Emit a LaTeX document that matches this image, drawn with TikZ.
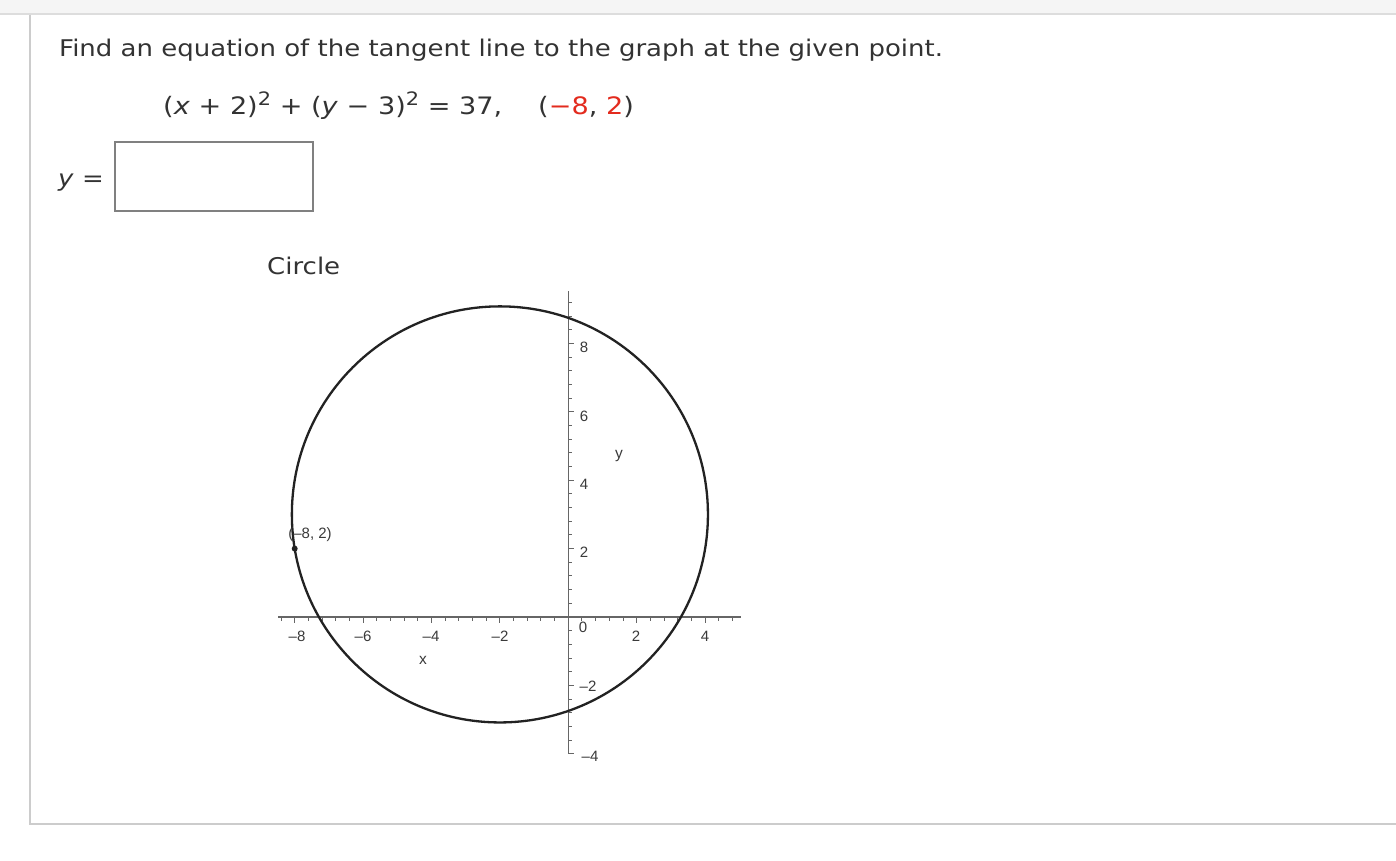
\documentclass[tikz,border=0pt]{standalone}
\usepackage{fontspec}
\setmainfont{DejaVu Sans}[FakeStretch=1.13]
\newfontfamily\tickfont{Liberation Sans}
\usepackage{xcolor}
\definecolor{txt}{HTML}{333333}
\definecolor{ansred}{HTML}{E32B1E}
\definecolor{panelline}{HTML}{CCCCCC}
\definecolor{topgray}{HTML}{F5F5F5}
\definecolor{topline}{HTML}{DDDDDD}
\definecolor{boxgray}{HTML}{808080}
\definecolor{curve}{HTML}{222222}
\definecolor{axisgray}{HTML}{666666}
\definecolor{ticklab}{HTML}{3A3A3A}
\begin{document}
\begin{tikzpicture}[x=1pt,y=-1pt,
  maintext/.style={anchor=base west,inner sep=0pt,text=txt,font=\fontsize{23}{27}\selectfont},
  ticklabel/.style={inner sep=0pt,text=ticklab,font=\tickfont\fontsize{15}{17}\selectfont},
  axislabel/.style={inner sep=0pt,text=ticklab,font=\tickfont\fontsize{15.5}{17}\selectfont}]
\useasboundingbox (0,0) rectangle (1396,860);
\fill[white] (0,0) rectangle (1396,860);
% top strip
\fill[topgray] (0,0) rectangle (1396,13.5);
\draw[topline,line width=1.2pt] (0,14) -- (1396,14);
% panel border
\draw[panelline,line width=2pt] (30,14.5) -- (30,824) -- (1396,824);
% texts
\node[maintext] (q) at (59,56) {Find an equation of the tangent line to the graph at the given point.};
\node[maintext,font=\fontsize{24}{27}\selectfont] (eq) at (163,114) {(\textit{x} + 2)\raisebox{9pt}{\fontsize{18.5}{20}\selectfont 2} + (\textit{y} − 3)\raisebox{9pt}{\fontsize{18.5}{20}\selectfont 2} = 37,\hspace{36pt}(\textcolor{ansred}{−8}, \textcolor{ansred}{2})};
\node[maintext] (yeq) at (58,186) {\textit{y} =};
\node[draw=boxgray,line width=2pt,minimum width=198pt,minimum height=69pt,inner sep=0pt,anchor=north west] (ans) at (114,141) {};
\node[maintext] (title) at (267,274) {Circle};
% graph
\begin{scope}[shift={(568.3,617)},x=34.2pt,y=34.2pt]
  % axes
  \draw[axisgray,line width=1.3pt] (-8.48,0) -- (5.05,0);
  \draw[axisgray,line width=1.3pt] (0,9.52) -- (0,-4);
  % x ticks
  \foreach \i in {-21,...,12} {
    \pgfmathsetmacro{\xx}{\i*0.4}
    \pgfmathtruncatemacro{\m}{mod(abs(\i),5)==0 ? 1 : 0}
    \ifnum\m=1
      \draw[axisgray,line width=1pt] (\xx,0) -- ++(0,-6pt);
    \else
      \draw[axisgray,line width=1pt] (\xx,0) -- ++(0,-3.5pt);
    \fi
  }
  % y ticks
  \foreach \i in {-10,...,23} {
    \pgfmathsetmacro{\yy}{\i*0.4}
    \pgfmathtruncatemacro{\m}{mod(abs(\i),5)==0 ? 1 : 0}
    \ifnum\m=1
      \draw[axisgray,line width=1pt] (0,\yy) -- ++(6pt,0);
    \else
      \draw[axisgray,line width=1pt] (0,\yy) -- ++(3.5pt,0);
    \fi
  }
  % circle
  \draw[curve,line width=2.3pt] (-2,3) circle[radius=6.0828];
  \fill[curve] (-8,2) circle[radius=3pt];
\end{scope}
% tick labels (pixel coords)
\node[ticklabel] (lxm8) at (297,636) {–8};
\node[ticklabel] (lxm6) at (363,636) {–6};
\node[ticklabel] (lxm4) at (431,636) {–4};
\node[ticklabel] (lxm2) at (500,636) {–2};
\node[ticklabel] (lx0) at (583,627) {0};
\node[ticklabel] (lx2) at (636,636) {2};
\node[ticklabel] (lx4) at (705,636) {4};
\node[ticklabel] (ly8) at (584,347) {8};
\node[ticklabel] (ly6) at (584,416) {6};
\node[ticklabel] (ly4) at (584,484) {4};
\node[ticklabel] (ly2) at (584,552) {2};
\node[ticklabel] (lym2) at (588,686) {–2};
\node[ticklabel] (lym4) at (590,756) {–4};
\node[axislabel] (xlab) at (423,660) {x};
\node[axislabel] (ylab) at (619,456) {y};
\node[ticklabel] (pt) at (310,535) {(–8, 2)};
\end{tikzpicture}
\end{document}
